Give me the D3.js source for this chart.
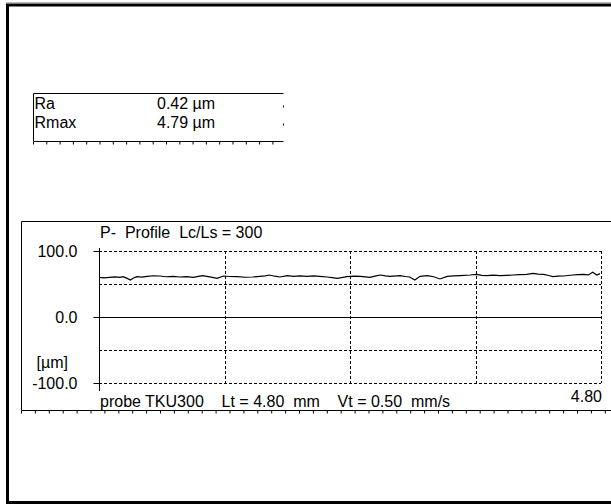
<!DOCTYPE html>
<html>
<head>
<meta charset="utf-8">
<script src="https://cdn.jsdelivr.net/npm/d3@7"></script>
<style>
  body { margin: 0; background: #fff; }
  svg { display: block; font-family: "Liberation Sans", Arial, sans-serif; }
  text { white-space: pre; fill: #000; }
</style>
</head>
<body>
<svg width="611" height="504"></svg>
<script>
// roughness parameters
const paramNames = ['Ra', 'Rmax'];
const paramValues = ['0.42 µm', '4.79 µm'];

// profile, x in mm, height in µm
const profileX = [0.00, 0.05, 0.10, 0.15, 0.20, 0.23, 0.27, 0.30, 0.33, 0.36, 0.41, 0.46, 0.52, 0.58, 0.64,
    0.71, 0.77, 0.84, 0.90, 0.95, 0.99, 1.06, 1.13, 1.19, 1.25, 1.32, 1.40, 1.47, 1.54, 1.59,
    1.63, 1.68, 1.73, 1.80, 1.86, 1.92, 1.99, 2.05, 2.11, 2.18, 2.23, 2.28, 2.37, 2.44, 2.50,
    2.59, 2.64, 2.69, 2.74, 2.78, 2.88, 2.93, 2.97, 3.02, 3.07, 3.14, 3.20, 3.26, 3.33, 3.39,
    3.45, 3.55, 3.61, 3.66, 3.71, 3.77, 3.83, 3.90, 3.96, 4.02, 4.09, 4.15, 4.20, 4.25, 4.30,
    4.34, 4.39, 4.44, 4.53, 4.58, 4.63, 4.68, 4.72, 4.76, 4.79];
const profileY = [60.1, 59.4, 60.1, 60.8, 60.1, 61.1, 58.5, 56.1, 59.0, 61.1, 60.4, 61.6, 62.5, 62.1, 61.0,
    61.6, 60.6, 61.2, 60.1, 61.5, 62.6, 60.8, 58.6, 62.1, 61.4, 61.1, 60.2, 60.6, 61.6, 62.4,
    63.6, 61.8, 60.6, 62.6, 61.6, 62.2, 61.6, 62.4, 61.6, 60.6, 59.8, 58.6, 61.1, 62.0, 61.6,
    60.1, 61.9, 63.6, 62.4, 61.6, 62.6, 61.4, 60.6, 56.1, 61.6, 62.6, 61.0, 57.6, 61.6, 62.2,
    62.6, 63.6, 64.6, 63.2, 62.6, 63.4, 62.6, 63.1, 63.6, 64.1, 64.6, 66.2, 65.0, 64.6, 62.9,
    61.1, 61.8, 62.1, 63.6, 64.3, 64.6, 63.8, 67.7, 63.6, 65.7];

// axis settings
const yTicks = [100, 0, -100];
const yGrid = [100, 50, -50, -100];
const xGrid = [1.2, 2.4, 3.6, 4.8];
const xMax = 4.80;

const svg = d3.select('svg');
const width = +svg.attr('width');
const height = +svg.attr('height');

// outer frame
svg.append('line')
    .attr('x1', 6).attr('x2', width)
    .attr('y1', 2.5).attr('y2', 2.5)
    .attr('stroke', '#bbb');
svg.append('rect')
    .attr('x', 7.5).attr('y', 5)
    .attr('width', width + 20).attr('height', 497.5)
    .attr('fill', 'none')
    .attr('stroke', '#000')
    .attr('stroke-width', 3);

// parameter box
const box = { x: 33.5, y: 93.5, w: 250, h: 48 };
const bg = svg.append('g');
bg.append('path')
    .attr('d', `M${box.x + box.w},${box.y}H${box.x}V${box.y + box.h}H${box.x + box.w}`)
    .attr('fill', 'none')
    .attr('stroke', '#000');
bg.selectAll('.btick')
    .data(d3.range(box.x, box.x + box.w, 13.3))
    .enter().append('line')
        .attr('x1', d => d).attr('x2', d => d)
        .attr('y1', box.y + box.h).attr('y2', box.y + box.h + 3)
        .attr('stroke', '#000');
bg.selectAll('.rtick')
    .data([box.y + 12, box.y + 30])
    .enter().append('line')
        .attr('x1', box.x + box.w).attr('x2', box.x + box.w)
        .attr('y1', d => d).attr('y2', d => d + 2)
        .attr('stroke', '#000');
bg.selectAll('.pname')
    .data(paramNames)
    .enter().append('text')
        .attr('x', box.x + 1)
        .attr('y', (d, i) => box.y + 15 + i * 19)
        .attr('font-size', 16)
        .text(d => d);
bg.selectAll('.pval')
    .data(paramValues)
    .enter().append('text')
        .attr('x', 157)
        .attr('y', (d, i) => box.y + 15 + i * 19)
        .attr('font-size', 16)
        .text(d => d);

// profile panel
const panel = { x: 21.5, y: 221.5, bottom: 410.5 };
const pg = svg.append('g');
pg.append('path')
    .attr('d', `M${width},${panel.y}H${panel.x}V${panel.bottom}H${width}`)
    .attr('fill', 'none')
    .attr('stroke', '#000');
pg.selectAll('.ptick')
    .data(d3.range(panel.x, width, 13.9))
    .enter().append('line')
        .attr('x1', d => d).attr('x2', d => d)
        .attr('y1', panel.bottom).attr('y2', panel.bottom + 3)
        .attr('stroke', '#000');

const margin = { left: 99, right: 10, top: 251, bottom: 383 };
const xScale = d3.scaleLinear()
    .domain([0, xMax])
    .range([margin.left, 601]);
const yScale = d3.scaleLinear()
    .domain([-100, 100])
    .range([margin.bottom, margin.top]);

const g = svg.append('g');

// grid
g.selectAll('.hgrid')
    .data(yGrid)
    .enter().append('line')
        .attr('x1', xScale(0)).attr('x2', xScale(xMax))
        .attr('y1', d => Math.round(yScale(d)) + 0.5)
        .attr('y2', d => Math.round(yScale(d)) + 0.5)
        .attr('stroke', '#000')
        .attr('stroke-dasharray', '3,2');
g.selectAll('.vgrid')
    .data(xGrid)
    .enter().append('line')
        .attr('x1', d => Math.round(xScale(d)) + 0.5)
        .attr('x2', d => Math.round(xScale(d)) + 0.5)
        .attr('y1', yScale(100)).attr('y2', yScale(-100))
        .attr('stroke', '#000')
        .attr('stroke-dasharray', '3,2');
g.append('line')
    .attr('x1', xScale(0)).attr('x2', xScale(xMax))
    .attr('y1', Math.round(yScale(0)) + 0.5)
    .attr('y2', Math.round(yScale(0)) + 0.5)
    .attr('stroke', '#000');

// y axis
const yAxis = d3.axisLeft(yScale)
    .tickValues(yTicks)
    .tickFormat(d => d.toFixed(1))
    .tickSize(6)
    .tickPadding(16);
const ya = g.append('g')
    .attr('transform', `translate(${Math.round(xScale(0)) + 0.5},0)`)
    .call(yAxis);
ya.select('.domain').remove();
ya.selectAll('.tick line').attr('stroke', '#000').attr('x2', -6);
ya.selectAll('.tick text')
    .attr('font-size', 16)
    .attr('font-family', '"Liberation Sans", Arial, sans-serif')
    .attr('fill', '#000');
ya.append('line')
    .attr('y1', yScale(100) - 3)
    .attr('y2', yScale(-100) + 8)
    .attr('stroke', '#000');

g.append('text')
    .attr('x', 68)
    .attr('y', yScale(-50) + 18)
    .attr('text-anchor', 'end')
    .attr('font-size', 16)
    .text('[µm]');

// profile line
const line = d3.line()
    .x((d, i) => xScale(profileX[i]))
    .y(d => yScale(d));
g.append('path')
    .datum(profileY)
    .attr('d', line)
    .attr('fill', 'none')
    .attr('stroke', '#000')
    .attr('stroke-width', 1.2);

// captions
g.append('text')
    .attr('x', 100).attr('y', 238)
    .attr('font-size', 16)
    .text('P-  Profile  Lc/Ls = 300');
g.append('text')
    .attr('x', 100).attr('y', 407)
    .attr('font-size', 16)
    .text('probe TKU300    Lt = 4.80  mm    Vt = 0.50  mm/s');
g.append('text')
    .attr('x', xScale(xMax) + 1).attr('y', 402)
    .attr('text-anchor', 'end')
    .attr('font-size', 16)
    .text(xMax.toFixed(2));
</script>
</body>
</html>
